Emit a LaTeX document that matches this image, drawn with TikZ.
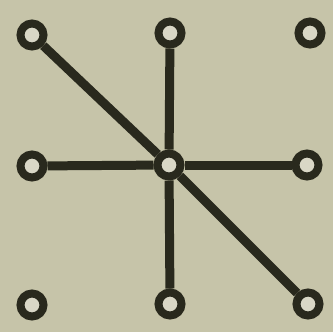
\documentclass[tikz,border=0pt]{standalone}
\usepackage{xcolor}
\usepackage{tikz}
\definecolor{fondo}{HTML}{C6C4A9}
\definecolor{tinta}{HTML}{29291D}
\definecolor{hueco}{HTML}{D9D7C6}

\begin{document}
\begin{tikzpicture}[x=0.02cm, y=-0.02cm,
    every node/.style={circle, draw=tinta, fill=hueco, line width=0.16cm,
      inner sep=0pt, minimum size=0.46cm}]
    % Fondo
    \fill[fondo] (0,0) rectangle (333,332);
    \useasboundingbox (0,0) rectangle (333,332);

    % Fila superior
    \node (a1) at (32,35) {};
    \node (a2) at (170,33) {};
    \node (a3) at (310,33) {};

    % Fila central
    \node (b1) at (32,166) {};
    \node (b2) at (169,165) {};
    \node (b3) at (307,165) {};

    % Fila inferior
    \node (c1) at (32,305) {};
    \node (c2) at (170,304) {};
    \node (c3) at (308,304) {};

    % Aristas desde el centro
    \draw[tinta, line width=0.18cm] (b2) -- (a1);
    \draw[tinta, line width=0.18cm] (b2) -- (a2);
    \draw[tinta, line width=0.18cm] (b2) -- (b1);
    \draw[tinta, line width=0.18cm] (b2) -- (b3);
    \draw[tinta, line width=0.18cm] (b2) -- (c2);
    \draw[tinta, line width=0.18cm] (b2) -- (c3);
\end{tikzpicture}
\end{document}
